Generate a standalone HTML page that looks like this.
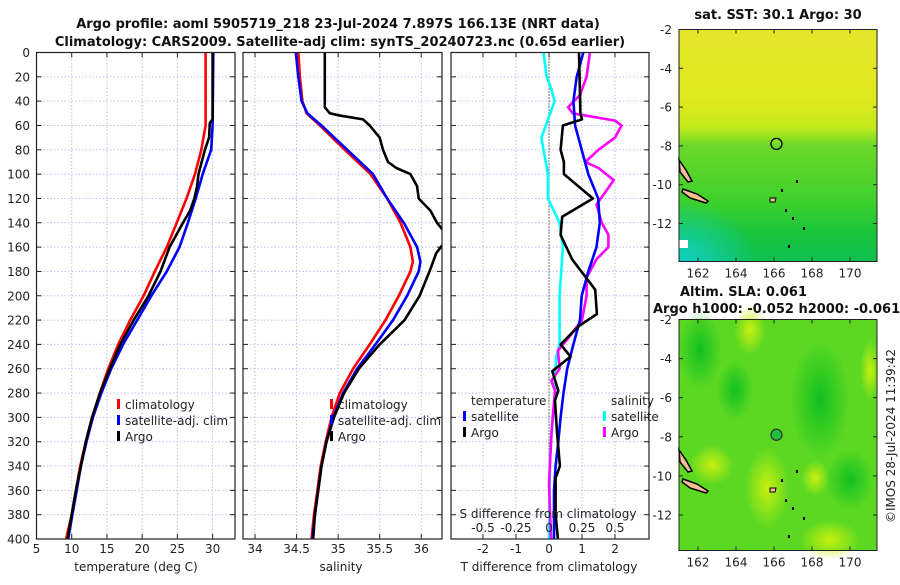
<!DOCTYPE html>
<html><head><meta charset="utf-8"><style>
body{margin:0;background:#fff}
svg text{font-family:"DejaVu Sans","Liberation Sans",sans-serif;fill:#222}
.t{font-size:12px}
.b{font-size:13px;font-weight:bold;fill:#111}
</style></head><body>
<svg id="chart" width="900" height="580" viewBox="0 0 900 580" xmlns="http://www.w3.org/2000/svg">
<defs>
<clipPath id="c1"><rect x="36.5" y="52.5" width="198.5" height="486.5"/></clipPath>
<clipPath id="c2"><rect x="243" y="52.5" width="199" height="486.5"/></clipPath>
<clipPath id="c3"><rect x="451" y="52.5" width="198" height="486.5"/></clipPath>
<linearGradient id="sst" x1="0" y1="0" x2="0" y2="1">
<stop offset="0" stop-color="#e4e62a"/><stop offset="0.3" stop-color="#e0e81e"/>
<stop offset="0.42" stop-color="#c4ea1a"/><stop offset="0.5" stop-color="#6cd82a"/>
<stop offset="0.75" stop-color="#3cd02c"/><stop offset="0.88" stop-color="#18c43c"/>
<stop offset="1" stop-color="#10c050"/></linearGradient>
<radialGradient id="cy" cx="0" cy="1" r="1"><stop offset="0" stop-color="#10d0c8"/><stop offset="1" stop-color="#10d0c8" stop-opacity="0"/></radialGradient>
<radialGradient id="yb"><stop offset="0" stop-color="#c8f010"/><stop offset="1" stop-color="#c8f010" stop-opacity="0"/></radialGradient>
<radialGradient id="gb"><stop offset="0" stop-color="#10c020"/><stop offset="1" stop-color="#10c020" stop-opacity="0"/></radialGradient>
</defs>
<g id="layer"></g>
</svg>
<script>
// ---- data: temperature panel ----
const tDepth = [0,60,80,100,120,140,160,180,200,220,240,260,280,300,320,340,360,380,400];
const tClim  = [29.0,29.0,28.4,27.5,26.3,24.9,23.5,21.8,20.2,18.3,16.6,15.2,14.0,12.9,12.0,11.2,10.6,10.0,9.2];
const tSat   = [30.1,30.0,29.8,28.6,27.6,26.5,25.3,23.5,21.3,19.3,17.3,15.6,14.2,13.0,12.1,11.3,10.7,10.1,9.5];
const tArgoDepth = [0,55,58,70,80,100,110,120,130,140,160,180,200,220,240,260,280,300,320,340,360,380,400];
const tArgo  = [30.0,30.0,29.6,29.5,28.9,28.0,27.8,27.4,26.8,25.8,23.9,22.6,20.9,18.8,16.9,15.4,14.0,12.9,12.0,11.3,10.6,10.0,9.4];
// ---- data: salinity panel ----
const sDepth = [0,20,40,50,60,80,100,120,140,160,172,180,200,220,240,260,280,300,320,340,360,380,400];
const sClim  = [34.52,34.54,34.57,34.62,34.78,35.08,35.39,35.59,35.75,35.87,35.90,35.87,35.73,35.57,35.38,35.18,35.02,34.92,34.85,34.79,34.75,34.71,34.68];
const sSat   = [34.49,34.52,34.56,34.63,34.80,35.11,35.42,35.59,35.79,35.95,35.99,35.97,35.83,35.66,35.45,35.23,35.06,34.94,34.86,34.80,34.76,34.72,34.69];
const sArgoDepth = [0,45,50,52,55,60,70,80,90,95,100,110,120,130,140,145,150,165,180,200,220,240,260,280,300,320,340,360,380,400];
const sArgo  = [34.84,34.84,34.90,35.03,35.30,35.38,35.50,35.54,35.60,35.70,35.87,35.95,35.97,36.11,36.19,36.25,36.35,36.18,36.10,35.98,35.80,35.50,35.25,35.07,34.95,34.86,34.80,34.76,34.72,34.70];
// ---- data: difference panel ----
const dDepth = [0,20,40,60,80,100,120,140,160,180,200,220,240,260,280,300,320,340,360,380,400];
const dTSat  = [1.04,0.84,0.74,0.79,0.99,1.19,1.49,1.54,1.44,1.19,0.99,0.94,0.74,0.55,0.44,0.35,0.28,0.20,0.15,0.15,0.15];
const dTArgoDepth = [0,50,55,60,80,90,100,120,135,150,170,195,215,225,240,250,262,278,286,311,340,350,380,400];
const dTArgo = [0.91,0.95,1.0,0.42,0.35,0.45,0.45,1.33,0.40,0.35,0.70,1.40,1.45,0.90,0.35,0.65,0.10,0.28,0.18,0.24,0.33,0.20,0.20,0.27];
const dSSatDepth = [0,20,30,40,55,70,80,100,120,140,160,200,240,250,270,280,330,400];
const dSSat  = [-0.042,-0.018,0.018,0.042,-0.008,-0.058,-0.042,-0.008,-0.008,0.08,0.105,0.08,0.08,0.055,0.042,0.045,0.008,0.0];
const dSArgoDepth = [0,20,35,45,50,56,60,70,80,90,95,105,115,125,140,150,160,170,185,200,220,235,245,260,270,278,311,355,400];
const dSArgo = [0.31,0.285,0.235,0.145,0.18,0.5,0.55,0.5,0.375,0.275,0.375,0.49,0.425,0.36,0.40,0.45,0.45,0.36,0.285,0.285,0.25,0.145,0.068,0.08,0.018,0.045,0.02,0.0,0.015];
const depthTicks = [0,20,40,60,80,100,120,140,160,180,200,220,240,260,280,300,320,340,360,380,400];
const tTicks = [5,10,15,20,25,30];
const sTicks = [34,34.5,35,35.5,36];
const dTTicks = [-2,-1,0,1,2];
const dSTicks = [-0.5,-0.25,0,0.25,0.5];
const latTicks = [-2,-4,-6,-8,-10,-12];
const lonTicks = [162,164,166,168,170];

const NS='http://www.w3.org/2000/svg';
const L=document.getElementById('layer');
function mk(tag,attrs,parent){const e=document.createElementNS(NS,tag);for(const k in attrs)e.setAttribute(k,attrs[k]);(parent||L).appendChild(e);return e;}
function txt(x,y,s,cls,anchor,parent){const e=mk('text',{x:x,y:y,class:cls,'text-anchor':anchor||'middle'},parent);e.textContent=s;return e;}
const yD=d=>52.5+d*1.2163;
const P1={x0:36.5,x1:235,lo:5,hi:33.18}, P2={x0:243,x1:442,lo:33.855,hi:36.25}, P3={x0:451,x1:649,lo:-2.97,hi:3.03};
const xs=(P)=>v=>P.x0+(v-P.lo)/(P.hi-P.lo)*(P.x1-P.x0);
const x1=xs(P1),x2=xs(P2),x3=xs(P3),x3s=v=>x3(v*4);

function panel(P,xf,ticks,name){
  const g=mk('g',{});
  
  
  ticks.forEach(t=>{const x=xf(t);mk('line',{x1:x,x2:x,y1:52.5,y2:539,stroke:'#b8c0e8','stroke-dasharray':'1.5,2','stroke-width':1},g);});
  depthTicks.forEach(d=>{const y=yD(d);mk('line',{x1:P.x0,x2:P.x1,y1:y,y2:y,stroke:'#b8c0e8','stroke-dasharray':'1.5,2','stroke-width':1},g);
    mk('line',{x1:P.x0,x2:P.x0+5,y1:y,y2:y,stroke:'#222'},g);mk('line',{x1:P.x1-5,x2:P.x1,y1:y,y2:y,stroke:'#222'},g);});
  ticks.forEach(t=>{const x=xf(t);mk('line',{x1:x,x2:x,y1:52.5,y2:57.5,stroke:'#222'},g);mk('line',{x1:x,x2:x,y1:534,y2:539,stroke:'#222'},g);});
  return g;
}
function frame(P,name){const r=mk('rect',{x:P.x0,y:52.5,width:P.x1-P.x0,height:486.5,fill:'none',stroke:'#222','stroke-width':1.2});
  
  }
function line(depths,vals,xf,color,clip,name){
  const d=depths.map((z,i)=>(i?'L':'M')+xf(vals[i]).toFixed(1)+','+yD(z).toFixed(1)).join('');
  const p=mk('path',{d:d,fill:'none',stroke:color,'stroke-width':2.6,'stroke-linejoin':'round','clip-path':'url(#'+clip+')'});
  
  
}
function legendItem(x,y,color,label,name){
  const g=mk('g',{});
  
  
  mk('rect',{x:x,y:y-10,width:3,height:10,fill:color},g);
  txt(x+8,y,label,'t','start',g);
}

// panel 1
panel(P1,x1,tTicks,'temperature-grid');
line(tDepth,tClim,x1,'#ff0000','c1','temperature-climatology-line');
line(tDepth,tSat,x1,'#0000ff','c1','temperature-satellite-line');
line(tArgoDepth,tArgo,x1,'#000000','c1','temperature-argo-line');
frame(P1,'temperature-axes');
depthTicks.forEach(d=>{const t=txt(30,yD(d)+4.5,String(d),'t','end');
  
  });
tTicks.forEach(v=>{const t=txt(x1(v),553,String(v),'t');
  
  });
legendItem(117,409,'#ff0000','climatology','legend-climatology');
legendItem(117,425,'#0000ff','satellite-adj. clim','legend-satellite-adj');
legendItem(117,441,'#000000','Argo','legend-argo');

// panel 2
panel(P2,x2,sTicks,'salinity-grid');
line(sDepth,sClim,x2,'#ff0000','c2','salinity-climatology-line');
line(sDepth,sSat,x2,'#0000ff','c2','salinity-satellite-line');
line(sArgoDepth,sArgo,x2,'#000000','c2','salinity-argo-line');
frame(P2,'salinity-axes');
sTicks.forEach(v=>{const t=txt(x2(v),553,String(v),'t');
  
  });
legendItem(330,409,'#ff0000','climatology','legend-climatology-2');
legendItem(330,425,'#0000ff','satellite-adj. clim','legend-satellite-adj-2');
legendItem(330,441,'#000000','Argo','legend-argo-2');

// panel 3
panel(P3,x3,dTTicks,'difference-grid');
mk('line',{x1:x3(0),x2:x3(0),y1:52.5,y2:539,stroke:'#333','stroke-dasharray':'1,2','stroke-width':1.2,'clip-path':'url(#c3)'});
line(dSSatDepth,dSSat,x3s,'#00ffff','c3','salinity-diff-satellite-line');
line(dSArgoDepth,dSArgo,x3s,'#ff00ff','c3','salinity-diff-argo-line');
line(dDepth,dTSat,x3,'#0000ff','c3','temperature-diff-satellite-line');
line(dTArgoDepth,dTArgo,x3,'#000000','c3','temperature-diff-argo-line');
frame(P3,'difference-axes');
dTTicks.forEach(v=>{const t=txt(x3(v),553,String(v),'t');
  
  });
dSTicks.forEach(v=>{const t=txt(x3s(v),532,String(v),'t');
  
  });
txt(471,405,'temperature','t','start');
legendItem(463,421,'#0000ff','satellite','legend-t-satellite');
legendItem(463,437,'#000000','Argo','legend-t-argo');
txt(611,405,'salinity','t','start');
legendItem(603,421,'#00ffff','satellite','legend-s-satellite');
legendItem(603,437,'#ff00ff','Argo','legend-s-argo');

// maps
const lonX=lon=>679+(lon-161)*19.0;
const lat1=lat=>29.5+(-2-lat)*19.4;
const lat2=lat=>319.5+(-2-lat)*19.55;
function mapAxes(top,bottom,latf,name){
  latTicks.forEach(l=>{const y=latf(l);mk('line',{x1:679,x2:683,y1:y,y2:y,stroke:'#222'});mk('line',{x1:873,x2:877,y1:y,y2:y,stroke:'#222'});
    const t=txt(672,y+4.5,String(l),'t','end');
    
    });
  lonTicks.forEach(l=>{const x=lonX(l);mk('line',{x1:x,x2:x,y1:top,y2:top+4,stroke:'#222'});mk('line',{x1:x,x2:x,y1:bottom-4,y2:bottom,stroke:'#222'});
    const t=txt(x,bottom+16,String(l),'t');
    
    });
  const r=mk('rect',{x:679,y:top,width:198,height:bottom-top,fill:'none',stroke:'#222'});
  
  
}
function islands(dy){
  const s='#f0c090';
  mk('path',{d:`M679,${dy+160} L686,${dy+170} L692,${dy+181} L688,${dy+182} L680,${dy+172}Z`,fill:s,stroke:'#000','stroke-width':1.5});
  mk('path',{d:`M683,${dy+189} L697,${dy+194} L708,${dy+201} L706,${dy+203} L690,${dy+198} L682,${dy+192}Z`,fill:s,stroke:'#000','stroke-width':1.5});
  mk('path',{d:`M770,${dy+198} L776,${dy+198} L775,${dy+202} L770,${dy+202}Z`,fill:s,stroke:'#000','stroke-width':1});
  [[796,180],[781,189],[785,209],[792,217],[788,245],[803,227]].forEach(p=>mk('rect',{x:p[0],y:dy+p[1],width:2,height:3,fill:'#000'}));
}
const m1=mk('rect',{x:679,y:29.5,width:198,height:232,fill:'url(#sst)'});


mk('rect',{x:679,y:200,width:80,height:62,fill:'url(#cy)'});
mk('rect',{x:679,y:240,width:9,height:8,fill:'#fff'});
islands(0);
const c1=mk('circle',{cx:lonX(166.13),cy:lat1(-7.897),r:5.5,fill:'none',stroke:'#000','stroke-width':1.3});


mapAxes(29.5,261.5,lat1,'sst-map');

const m2=mk('rect',{x:679,y:319.5,width:198,height:231,fill:'#5cd822'});


[[700,350,22,40],[820,400,30,60],[735,390,18,30],[850,480,25,30]].forEach(e=>mk('ellipse',{cx:e[0],cy:e[1],rx:e[2],ry:e[3],fill:'url(#gb)'}));
[[712,465,22,20],[767,488,22,40],[815,478,14,18],[830,540,30,20],[750,330,16,25],[870,370,10,30]].forEach(e=>mk('ellipse',{cx:e[0],cy:e[1],rx:e[2],ry:e[3],fill:'url(#yb)'}));
islands(290);
const c2=mk('circle',{cx:lonX(166.13),cy:lat2(-7.897),r:5.5,fill:'#20c040',stroke:'#333','stroke-width':1.3});


mapAxes(319.5,550.5,lat2,'sla-map');
</script>
<svg style="position:absolute;left:0;top:0" width="900" height="580" viewBox="0 0 900 580">
<text x="338" y="28" text-anchor="middle" class="b">Argo profile: aoml 5905719_218 23-Jul-2024 7.897S 166.13E (NRT data)</text>
<text x="340" y="46" text-anchor="middle" class="b">Climatology: CARS2009. Satellite-adj clim: synTS_20240723.nc (0.65d earlier)</text>
<text x="136" y="571" text-anchor="middle" class="t">temperature (deg C)</text>
<text x="341" y="571" text-anchor="middle" class="t">salinity</text>
<text x="549" y="571" text-anchor="middle" class="t">T difference from climatology</text>
<text x="548" y="518" text-anchor="middle" class="t">S difference from climatology</text>
<text x="778" y="19" text-anchor="middle" class="b">sat. SST: 30.1 Argo: 30</text>
<text x="680" y="296" text-anchor="start" class="b">Altim. SLA: 0.061</text>
<text x="653" y="313" text-anchor="start" class="b">Argo h1000: -0.052 h2000: -0.061</text>
<text x="0" y="0" transform="translate(895,436) rotate(-90)" text-anchor="middle" class="t">©IMOS 28-Jul-2024 11:39:42</text>
</svg>
</body></html>
